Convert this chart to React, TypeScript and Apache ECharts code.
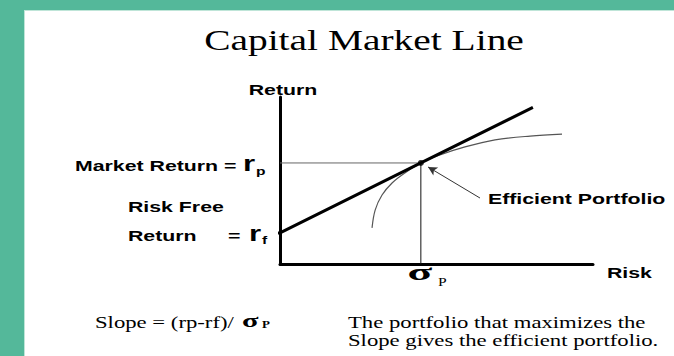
import React, { useEffect, useRef } from "react";
import * as echarts from "echarts";

// ---- data (arbitrary risk / return units) ----
const riskFree = 1.86;
const marketReturn = 6.05;
const sigmaP = 4.5;
const cmlRisk = [0, 4.5, 8.08];
const cmlReturn = [1.86, 6.05, 9.38];
const frontierRisk = [2.94, 3.04, 3.26, 3.58, 3.99, 4.5, 5.11, 5.91, 6.87, 7.99, 9.01];
const frontierReturn = [2.16, 3.23, 4.13, 4.85, 5.45, 6.05, 6.53, 7.01, 7.43, 7.66, 7.78];
const arrowFrom = [6.39, 3.95];
const arrowTo = [4.73, 5.81];
const tickStub = [-0.38, 0];

const SANS = "'Liberation Sans', Arial, sans-serif";
const SERIF = "'Liberation Serif', 'Times New Roman', serif";
const SX = 1.42;

function txt(
  text: string,
  x: number,
  y: number,
  size: number,
  opts: { family?: string; weight?: string; align?: string; sx?: number; fill?: string } = {}
) {
  const family = opts.family || SANS;
  const weight = opts.weight || "bold";
  const align = opts.align || "left";
  return {
    type: "text",
    x,
    y,
    scaleX: opts.sx || SX,
    z: 100,
    style: {
      text,
      fill: opts.fill || "#000",
      font: `${weight} ${size}px ${family}`,
      fontSize: size,
      fontFamily: family,
      fontWeight: weight,
      textAlign: align,
      textVerticalAlign: "middle",
      align,
      verticalAlign: "middle",
    },
  };
}

export default function App() {
  const ref = useRef<HTMLDivElement>(null);
  useEffect(() => {
    if (!ref.current) return;
    const chart = echarts.init(ref.current, undefined, { renderer: "svg" });
    const pair = (xs: number[], ys: number[]) => xs.map((v, i) => [v, ys[i]]);
    chart.setOption({
      animation: false,
      backgroundColor: "#ffffff",
      grid: { left: 280, top: 97, width: 313, height: 167 },
      xAxis: {
        type: "value",
        min: 0,
        max: 10,
        axisLine: { show: true, lineStyle: { color: "#000", width: 3 } },
        axisTick: { show: false },
        axisLabel: { show: false },
        splitLine: { show: false },
      },
      yAxis: {
        type: "value",
        min: 0,
        max: 10,
        axisLine: { show: true, lineStyle: { color: "#000", width: 3 } },
        axisTick: { show: false },
        axisLabel: { show: false },
        splitLine: { show: false },
      },
      series: [
        {
          type: "line",
          name: "rp guide",
          data: [[0, marketReturn], [sigmaP, marketReturn]],
          symbol: "none",
          lineStyle: { color: "#666", width: 1 },
          z: 2,
        },
        {
          type: "line",
          name: "sigma guide",
          data: [[sigmaP, 0], [sigmaP, marketReturn]],
          symbol: "none",
          lineStyle: { color: "#111", width: 1 },
          z: 2,
        },
        {
          type: "line",
          name: "Efficient frontier",
          data: pair(frontierRisk, frontierReturn),
          smooth: 0.35,
          symbol: "none",
          lineStyle: { color: "#555", width: 1.2 },
          z: 3,
        },
        {
          type: "line",
          name: "Capital Market Line",
          data: pair(cmlRisk, cmlReturn),
          symbol: "none",
          clip: false,
          lineStyle: { color: "#000", width: 3 },
          z: 4,
        },
        {
          type: "line",
          name: "rf tick",
          data: [[tickStub[0], riskFree], [tickStub[1], riskFree]],
          symbol: "none",
          clip: false,
          lineStyle: { color: "#000", width: 3 },
          z: 4,
        },
        {
          type: "scatter",
          name: "Efficient Portfolio",
          data: [[sigmaP, marketReturn]],
          symbol: "circle",
          symbolSize: 6,
          itemStyle: { color: "#000" },
          z: 5,
          markLine: {
            silent: true,
            symbol: ["none", "arrow"],
            symbolSize: [7, 9],
            label: { show: false },
            lineStyle: { color: "#333", width: 1, type: "solid" },
            data: [[{ coord: arrowFrom }, { coord: arrowTo }]],
          },
        },
      ],
      graphic: [
        { type: "rect", shape: { x: 0, y: 0, width: 674, height: 10 }, style: { fill: "#54b89a" }, z: 50 },
        { type: "rect", shape: { x: 0, y: 0, width: 24, height: 356 }, style: { fill: "#54b89a" }, z: 50 },
        { type: "rect", shape: { x: 24, y: 10, width: 1, height: 346 }, style: { fill: "#bfe5d8" }, z: 50 },
        { type: "rect", shape: { x: 24, y: 10, width: 650, height: 1 }, style: { fill: "#bfe5d8" }, z: 50 },
        txt("Capital Market Line", 364, 40, 29, { family: SERIF, weight: "normal", align: "center", sx: 1.36 }),
        txt("Return", 283, 90, 15, { align: "center" }),
        txt("Market Return =", 75, 166, 15),
        txt("r", 243, 164, 22),
        txt("p", 256, 171, 11),
        txt("Risk Free", 128, 207, 15),
        txt("Return", 128, 235.5, 15),
        txt("=", 228, 235.5, 15),
        txt("r", 249, 233.5, 22),
        txt("f", 262, 240, 11),
        txt("Efficient Portfolio", 488, 199, 15),
        txt("Risk", 607, 273, 15),
        txt("σ", 420, 272, 24, { family: SERIF, align: "center", sx: 1.9 }),
        txt("P", 438, 282, 12, { family: SERIF, weight: "normal", sx: 1.3 }),
        txt("Slope = (rp-rf)/ ", 95, 322, 16, { family: SERIF, weight: "normal" }),
        txt("σ", 242, 320, 19, { family: SERIF, sx: 1.6 }),
        txt("P", 262, 325, 10, { family: SERIF, weight: "bold", sx: 1.3 }),
        txt("The portfolio that maximizes the", 348, 322, 16, { family: SERIF, weight: "normal" }),
        txt("Slope gives the efficient portfolio.", 348, 340, 16, { family: SERIF, weight: "normal" }),
      ],
    });
    return () => chart.dispose();
  }, []);
  return (
    <div
      ref={ref}
      style={{ position: "fixed", left: 0, top: 0, width: 674, height: 356, background: "#fff" }}
    />
  );
}
